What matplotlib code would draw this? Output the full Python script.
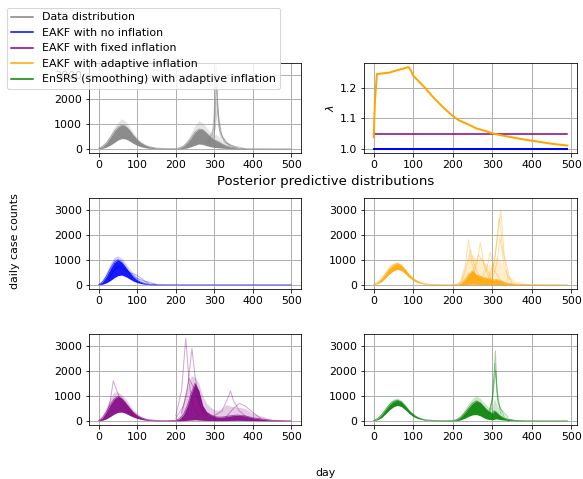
import matplotlib
matplotlib.use("Agg")
import matplotlib.pyplot as plt
from matplotlib.lines import Line2D

plt.rcParams["font.size"] = 11

# day grid used by the ensemble envelopes
days_full = [0, 10, 20, 30, 40, 50, 60, 70, 80, 90, 100, 110, 120, 130, 150, 175, 200,
             210, 220, 230, 240, 250, 260, 270, 280, 290, 300, 305, 310, 320, 330, 340,
             360, 380, 400, 450, 500]
days_short = days_full[:-1] + [490]

# data distribution (grey)
data_lo = [5, 25, 70, 150, 250, 360, 420, 400, 320, 220, 140, 85, 50, 25, 8, 2, 3,
           5, 15, 40, 90, 150, 200, 180, 130, 90, 60, 50, 45, 30, 20, 12, 5, 2, 0, 0, 0]
data_mid = [30, 100, 240, 460, 700, 880, 970, 920, 760, 550, 370, 240, 150, 90, 30, 10, 12,
            40, 110, 250, 450, 680, 800, 780, 640, 480, 360, 330, 300, 200, 130, 80, 30, 10, 4, 0, 0]
data_hi = [50, 140, 320, 580, 870, 1080, 1220, 1120, 900, 660, 450, 300, 190, 120, 45, 15, 25,
           75, 190, 390, 660, 950, 1150, 1060, 860, 660, 560, 600, 520, 360, 230, 150, 60, 20, 8, 2, 0]
data_members = [
    ([280, 295, 300, 305, 310, 318, 330, 360], [300, 600, 1500, 3310, 1400, 600, 250, 40]),
    ([285, 298, 306, 312, 320, 340, 380], [250, 700, 2500, 1200, 500, 150, 20]),
    ([280, 300, 307, 315, 330, 360], [200, 900, 2000, 700, 250, 40]),
    ([290, 302, 308, 316, 340], [150, 800, 1600, 500, 100]),
    ([285, 300, 306, 311, 325, 350], [200, 500, 2900, 900, 300, 50]),
]

# EAKF, no inflation (blue)
noinf_lo = [0, 25, 80, 170, 280, 370, 390, 330, 240, 150, 90, 50, 25, 12, 3, 0] + [0] * 21
noinf_mid = [10, 120, 340, 640, 900, 1000, 900, 700, 490, 310, 180, 100, 50, 24, 6, 1, 0] + [0] * 20
noinf_hi = [25, 200, 500, 850, 1100, 1160, 1060, 860, 640, 440, 290, 170, 90, 45, 12, 3, 1] + [0] * 20
noinf_members = [
    ([30, 45, 60, 80, 100, 120, 150], [300, 700, 650, 500, 380, 150, 20]),
    ([25, 40, 55, 75, 95, 130], [200, 600, 750, 550, 300, 60]),
]

# EAKF, adaptive inflation (orange)
adapt_lo = [5, 45, 130, 280, 440, 560, 620, 570, 440, 290, 175, 100, 55, 28, 8, 2, 2,
            3, 5, 10, 20, 25, 20, 15, 12, 10, 10, 10, 10, 8, 6, 5, 3, 2, 1, 0, 0]
adapt_mid = [15, 90, 240, 450, 660, 800, 860, 780, 600, 400, 250, 150, 85, 45, 12, 4, 5,
             20, 70, 200, 430, 560, 400, 340, 290, 260, 210, 200, 220, 180, 110, 65, 30, 12, 5, 1, 0]
adapt_hi = [30, 140, 320, 560, 780, 900, 920, 840, 660, 450, 290, 180, 100, 55, 16, 6, 10,
            60, 250, 700, 1200, 1200, 1000, 1100, 900, 800, 800, 900, 1100, 1000, 600, 350, 150, 80, 40, 10, 0]
adapt_members = [
    ([220, 232, 240, 248, 260, 280], [100, 800, 1800, 900, 300, 100]),
    ([250, 262, 270, 280, 295], [300, 900, 1700, 700, 200]),
    ([290, 305, 315, 322, 330, 345], [300, 900, 2200, 3000, 1200, 200]),
    ([295, 308, 318, 326, 340], [200, 1200, 2700, 1500, 200]),
    ([270, 285, 295, 305, 320], [200, 600, 1300, 600, 200]),
    ([225, 238, 245, 255, 270], [200, 900, 1400, 800, 200]),
    ([240, 255, 265, 278, 300], [100, 700, 1200, 900, 200]),
    ([300, 312, 320, 330, 350], [200, 900, 1900, 700, 100]),
]

# EAKF, fixed inflation (purple)
fixed_lo = [0, 25, 80, 170, 270, 340, 350, 300, 220, 150, 95, 58, 32, 16, 5, 2, 3,
            5, 10, 20, 30, 40, 30, 20, 15, 12, 10, 10, 10, 10, 12, 15, 20, 15, 10, 2, 0]
fixed_mid = [10, 130, 360, 650, 880, 980, 900, 720, 520, 340, 210, 130, 75, 40, 12, 5, 20,
             80, 250, 600, 1100, 1500, 1200, 600, 350, 250, 180, 160, 150, 150, 170, 200, 230, 200, 120, 20, 0]
fixed_hi = [25, 220, 550, 900, 1150, 1150, 1050, 880, 660, 450, 300, 190, 110, 60, 20, 10, 60,
            250, 700, 1300, 1800, 1750, 1500, 1000, 700, 550, 450, 420, 420, 500, 650, 600, 550, 500, 300, 60, 0]
fixed_members = [
    ([200, 215, 226, 235, 245, 260], [200, 1200, 3300, 1500, 600, 200]),
    ([215, 230, 242, 250, 262, 280], [300, 1200, 2900, 1800, 700, 200]),
    ([20, 30, 38, 45, 55, 70, 90], [200, 800, 1600, 1300, 900, 500, 200]),
    ([300, 320, 335, 342, 350, 365, 380], [200, 400, 900, 1200, 800, 400, 200]),
    ([330, 350, 365, 380, 395, 420], [150, 500, 700, 600, 400, 100]),
    ([200, 220, 235, 250, 270], [100, 600, 1700, 1200, 300]),
]

# EnSRS smoothing, adaptive inflation (green)
smooth_lo = [5, 45, 130, 280, 440, 560, 620, 570, 440, 290, 175, 100, 55, 28, 8, 2, 3,
             10, 40, 100, 180, 240, 250, 200, 110, 60, 40, 60, 80, 50, 30, 15, 5, 2, 0, 0, 0]
smooth_mid = [15, 90, 240, 450, 650, 780, 830, 760, 590, 400, 250, 150, 85, 45, 12, 4, 10,
              50, 150, 320, 520, 700, 800, 720, 550, 380, 300, 400, 350, 200, 110, 60, 15, 4, 1, 0, 0]
smooth_hi = [30, 130, 310, 540, 760, 880, 920, 840, 660, 450, 290, 180, 100, 55, 16, 6, 18,
             80, 220, 450, 700, 900, 1000, 900, 720, 550, 550, 900, 700, 380, 220, 120, 30, 8, 2, 0, 0]
smooth_members = [
    ([290, 300, 305, 308, 312, 320, 340], [300, 800, 2000, 2800, 1200, 500, 150]),
    ([292, 301, 307, 313, 322], [300, 1000, 2300, 900, 300]),
    ([295, 303, 309, 315, 330], [300, 1200, 2000, 700, 200]),
]

# inflation factor lambda
lam_days = [0, 3, 8, 20, 40, 60, 80, 88, 95, 100, 115, 130, 150, 175, 200, 215, 240, 260,
            280, 300, 325, 350, 375, 400, 425, 450, 470, 490]
lam_adapt = [1.038, 1.15, 1.245, 1.247, 1.25, 1.258, 1.265, 1.268, 1.255, 1.24, 1.22, 1.20,
             1.17, 1.137, 1.108, 1.094, 1.08, 1.067, 1.06, 1.051, 1.044, 1.038, 1.032, 1.027,
             1.022, 1.017, 1.014, 1.011]
lam_fixed = [1.05, 1.05]
lam_none = [1.0, 1.0]
lam_flat_days = [0, 490]

labels = ["Data distribution", "EAKF with no inflation", "EAKF with fixed inflation",
          "EAKF with adaptive inflation", "EnSRS (smoothing) with adaptive inflation"]
colors = ["grey", "blue", "purple", "orange", "green"]


def draw_ensemble(ax, days, lo, mid, hi, members, color):
    ax.fill_between(days, mid, hi, color=color, alpha=0.2, lw=0)
    ax.fill_between(days, lo, mid, color=color, alpha=0.9, lw=0)
    ax.plot(days, mid, color=color, alpha=0.6, lw=1)
    for d, v in members:
        ax.plot(d, v, color=color, alpha=0.35, lw=1)


W, H = 583, 479
fig = plt.figure(figsize=(W / 72, H / 72), dpi=72)


def px_axes(left, top, right, bottom, **kw):
    return fig.add_axes([left / W, 1 - bottom / H, (right - left) / W, (bottom - top) / H], **kw)


ax_data = px_axes(89, 63, 301, 153)
ax_lam = px_axes(364, 63, 577, 153)
ax_none = px_axes(89, 198, 301, 289, sharey=ax_data)
ax_adapt = px_axes(364, 198, 577, 289, sharey=ax_data)
ax_fixed = px_axes(89, 334, 301, 425, sharey=ax_data)
ax_smooth = px_axes(364, 334, 577, 425, sharey=ax_data)

draw_ensemble(ax_data, days_full, data_lo, data_mid, data_hi, data_members, "grey")
draw_ensemble(ax_none, days_full, noinf_lo, noinf_mid, noinf_hi, noinf_members, "blue")
draw_ensemble(ax_adapt, days_short, adapt_lo, adapt_mid, adapt_hi, adapt_members, "orange")
draw_ensemble(ax_fixed, days_full, fixed_lo, fixed_mid, fixed_hi, fixed_members, "purple")
draw_ensemble(ax_smooth, days_short, smooth_lo, smooth_mid, smooth_hi, smooth_members, "green")

ax_lam.plot(lam_flat_days, lam_none, color="blue", lw=2)
ax_lam.plot(lam_flat_days, lam_fixed, color="purple", lw=1.5)
ax_lam.plot(lam_days, lam_adapt, color="orange", lw=2)
ax_lam.set_ylabel(r"$\lambda$")
ax_lam.set_yticks([1.0, 1.1, 1.2])

for ax in [ax_data, ax_lam, ax_none, ax_adapt, ax_fixed, ax_smooth]:
    ax.grid(True, lw=1)
    ax.set_axisbelow(True)
    ax.set_xticks([0, 100, 200, 300, 400, 500])
ax_data.set_yticks([0, 1000, 2000, 3000])

fig.text(326 / W, 1 - 181 / H, "Posterior predictive distributions", ha="center", va="center", fontsize=13.2)
fig.text(326 / W, 1 - 473 / H, "day", ha="center", va="center")
fig.text(15 / W, 1 - 241 / H, "daily case counts", ha="center", va="center", rotation=90)

handles = [Line2D([], [], color=c, lw=1.5) for c in colors]
fig.legend(handles, labels, loc="upper left", bbox_to_anchor=(7 / W, 1 - 8 / H), borderaxespad=0)

fig.savefig("out.png", dpi=72)
